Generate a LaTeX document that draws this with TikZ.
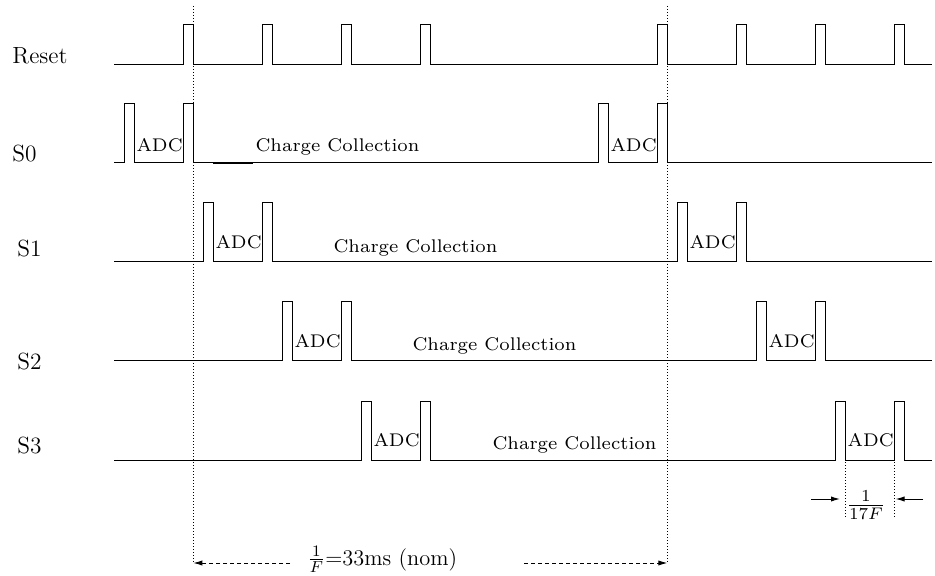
\documentclass[tikz,border=0pt]{standalone}
\usetikzlibrary{arrows.meta}
\begin{document}
\begin{tikzpicture}[x=0.5pt,y=-0.5pt,
  sig/.style={line width=0.5pt, line join=miter},
  vdot/.style={line width=0.45pt, dash pattern=on 0.5pt off 1pt},
  dsh/.style={line width=0.45pt, dash pattern=on 2pt off 1.5pt},
  lbl/.style={anchor=base west, inner sep=0pt, font=\fontsize{11.7}{14}\selectfont},
  small/.style={anchor=base west, inner sep=0pt, scale=1.31, font=\scriptsize},
  tip/.style={-{Latex[length=4.5pt,width=2.6pt]}}]
\useasboundingbox (0,0) rectangle (935,576);
% Reset waveform
\draw[sig] (114,65) \foreach \p in {183.5,262.5,341.5,420.5,657.5,736.5,815.5,894.5}{ -- (\p,65) -- (\p,25) -- (\p+10,25) -- (\p+10,65) } -- (932,65);
% S0..S3 waveforms
\foreach \n/\L in {0/163,1/262,2/361,3/460}{
  \pgfmathsetmacro\a{124+79*\n}
  \pgfmathsetmacro\b{183.5+79*\n}
  \pgfmathsetmacro\c{\a+474}
  \pgfmathsetmacro\d{\b+474}
  \draw[sig] (114,\L) \foreach \p in {\a,\b,\c,\d}{ -- (\p,\L) -- (\p,\L-59) -- (\p+10,\L-59) -- (\p+10,\L) } -- (932,\L);
}
\draw[line width=1pt] (213,163) -- (253,163);
% row labels
\node[lbl] (reset) at (12,64) {Reset};
\node[lbl] (s0) at (12,161.5) {S0};
\node[lbl] (s1) at (17,256.5) {S1};
\node[lbl] (s2) at (17,370) {S2};
\node[lbl] (s3) at (17,453.5) {S3};
% ADC labels
\node[small] (adc0a) at (136,152) {ADC};
\node[small] (adc0b) at (610,152) {ADC};
\node[small] (adc1a) at (215,249) {ADC};
\node[small] (adc1b) at (689,249) {ADC};
\node[small] (adc2a) at (294,348) {ADC};
\node[small] (adc2b) at (768,348) {ADC};
\node[small] (adc3a) at (373,446.5) {ADC};
\node[small] (adc3b) at (847,446.5) {ADC};
% Charge collection labels
\node[small] (cc0) at (255,152) {Charge Collection};
\node[small] (cc1) at (333,252.5) {Charge Collection};
\node[small] (cc2) at (412,351) {Charge Collection};
\node[small] (cc3) at (492,449) {Charge Collection};
% dotted markers
\coordinate (dlt) at (193.3,6);
\coordinate (dlb) at (193.3,563);
\coordinate (drt) at (667.3,6);
\coordinate (drb) at (667.3,563);
\draw[vdot] (dlt) -- (dlb);
\draw[vdot] (drt) -- (drb);
\coordinate (sl1) at (845,462);
\coordinate (sl2) at (845,518);
\coordinate (sr1) at (894.5,462);
\coordinate (sr2) at (894.5,518);
\draw[vdot] (sl1) -- (sl2);
\draw[vdot] (sr1) -- (sr2);
% period annotation
\coordinate (pa) at (290,563);
\coordinate (pb) at (524,563);
\draw[dsh,tip] (pa) -- (dlb);
\draw[dsh,tip] (pb) -- (drb);
\node[anchor=base west, inner sep=0pt, font=\fontsize{11.2}{13}\selectfont] (per) at (307,565) {$\frac{1}{F}$=33ms (nom)};
% ADC time annotation
\coordinate (al) at (811,499);
\coordinate (alt) at (840,499);
\coordinate (ar) at (923,499);
\coordinate (art) at (895.5,499);
\draw[line width=0.5pt,tip] (al) -- (alt);
\draw[line width=0.5pt,tip] (ar) -- (art);
\node[inner sep=0pt, scale=1.2, font=\fontsize{10}{12}\selectfont] (adct) at (866,505) {$\frac{1}{17F}$};
\end{tikzpicture}
\end{document}
